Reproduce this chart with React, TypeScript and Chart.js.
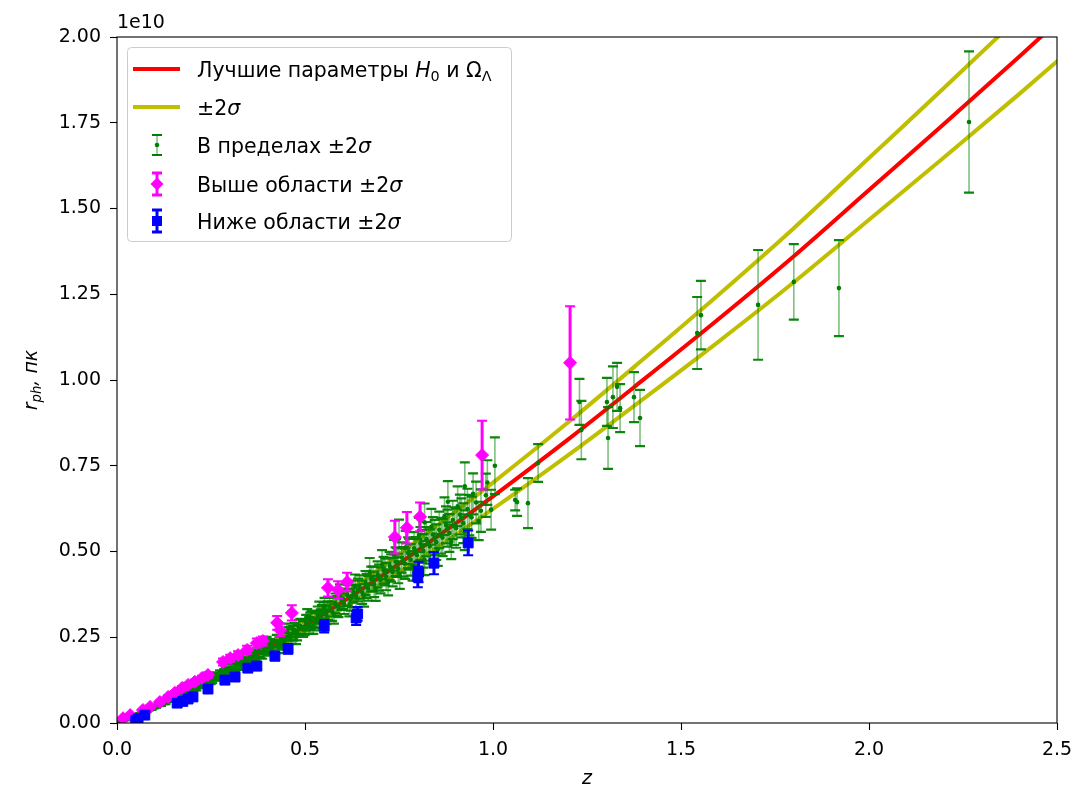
import React, { useEffect, useRef } from 'react';
import { Chart, registerables } from 'chart.js';

Chart.register(...registerables);

// ---- model curves, r in units of 1e10 pc ----
const lineZ = [0, 0.1, 0.2, 0.3, 0.4, 0.5, 0.6, 0.7, 0.8, 0.9, 1.0, 1.2, 1.4, 1.6, 1.8, 2.0, 2.2, 2.4, 2.6];
const fitR = [0, 0.046, 0.098, 0.155, 0.217, 0.283, 0.353, 0.426, 0.503, 0.581, 0.661, 0.827, 1.001, 1.178, 1.361, 1.554, 1.747, 1.943, 2.144];
const upperR = [0, 0.0488, 0.1039, 0.1643, 0.230, 0.300, 0.374, 0.4516, 0.533, 0.616, 0.7007, 0.8766, 1.061, 1.2487, 1.4427, 1.6472, 1.8518, 2.0596, 2.2726];
const lowerR = [0, 0.0434, 0.0925, 0.1463, 0.2048, 0.2672, 0.3332, 0.4021, 0.4748, 0.5485, 0.624, 0.7807, 0.9449, 1.112, 1.2848, 1.467, 1.6492, 1.8342, 2.0239];

// ---- points within ±2σ ----
const greenZ = [0.010, 0.015, 0.019, 0.024, 0.028, 0.033, 0.037, 0.043, 0.049, 0.054, 0.061, 0.066, 0.073, 0.079, 0.085, 0.092, 0.098, 0.104, 0.111, 0.117, 0.124, 0.129, 0.136, 0.143, 0.148, 0.155, 0.161, 0.168, 0.176, 0.182, 0.188, 0.195, 0.203, 0.211, 0.218, 0.224, 0.231, 0.239, 0.246, 0.253, 0.259, 0.266, 0.274, 0.281, 0.289, 0.296, 0.304, 0.311, 0.318, 0.326, 0.333, 0.341, 0.349, 0.356, 0.362, 0.371, 0.378, 0.386, 0.393, 0.401, 0.408, 0.416, 0.425, 0.432, 0.441, 0.448, 0.457, 0.463, 0.472, 0.479, 0.488, 0.495, 0.503, 0.511, 0.518, 0.527, 0.534, 0.542, 0.549, 0.557, 0.566, 0.572, 0.581, 0.589, 0.597, 0.604, 0.613, 0.621, 0.628, 0.636, 0.645, 0.652, 0.661, 0.668, 0.676, 0.684, 0.693, 0.701, 0.709, 0.716, 0.725, 0.733, 0.741, 0.748, 0.757, 0.766, 0.774, 0.781, 0.790, 0.798, 0.807, 0.815, 0.823, 0.832, 0.840, 0.849, 0.857, 0.866, 0.875, 0.884, 0.893, 0.902, 0.912, 0.921, 0.932, 0.943, 0.955, 0.968, 0.981,
  0.335, 0.365, 0.398, 0.428, 0.452, 0.476, 0.506, 0.522, 0.538, 0.552, 0.577, 0.593, 0.618, 0.633, 0.657, 0.672, 0.688, 0.705, 0.721, 0.737, 0.752, 0.768, 0.786, 0.803, 0.818, 0.836, 0.853, 0.871, 0.889, 0.906, 0.925, 0.947, 0.962, 0.985, 0.995, 0.750, 0.818, 0.880, 0.925,
  0.207, 0.228, 0.249, 0.263, 0.285, 0.299, 0.315, 0.337, 0.352, 0.368, 0.382, 0.397, 0.412, 0.436, 0.444, 0.468, 0.484, 0.499, 0.514, 0.531, 0.545, 0.561, 0.585, 0.601, 0.625, 0.641, 0.664, 0.681, 0.697, 0.713, 0.729, 0.745, 0.762, 0.777, 0.794, 0.811, 0.828, 0.845, 0.862, 0.879, 0.897, 0.916, 0.937,
  1.005, 1.059, 1.064, 1.093, 1.120, 1.230, 1.235, 1.303, 1.306, 1.319, 1.330, 1.338, 1.375, 1.391, 1.543, 1.553, 1.705, 1.800, 1.920, 2.266];
const greenR = [0.0044, 0.0063, 0.0084, 0.0101, 0.0126, 0.0141, 0.0163, 0.0185, 0.0219, 0.0233, 0.0270, 0.0288, 0.0326, 0.0347, 0.0395, 0.0414, 0.0457, 0.0472, 0.0526, 0.0541, 0.0593, 0.0598, 0.0659, 0.0672, 0.0721, 0.0733, 0.0792, 0.0801, 0.0871, 0.0873, 0.0936, 0.0938, 0.1016, 0.1025, 0.1104, 0.1095, 0.1178, 0.1180, 0.1265, 0.1255, 0.1340, 0.1330, 0.1432, 0.1413, 0.1520, 0.1500, 0.1610, 0.1586, 0.1698, 0.1672, 0.1790, 0.1762, 0.1888, 0.1849, 0.1972, 0.1944, 0.2078, 0.2033, 0.2175, 0.2130, 0.2274, 0.2222, 0.2390, 0.2326, 0.2496, 0.2428, 0.2602, 0.2525, 0.2710, 0.2631, 0.2818, 0.2737, 0.2924, 0.2845, 0.3031, 0.2951, 0.3146, 0.3052, 0.3253, 0.3154, 0.3375, 0.3257, 0.3485, 0.3375, 0.3600, 0.3478, 0.3722, 0.3594, 0.3832, 0.3699, 0.3962, 0.3813, 0.4082, 0.3925, 0.4200, 0.4042, 0.4330, 0.4160, 0.4451, 0.4270, 0.4577, 0.4395, 0.4703, 0.4505, 0.4826, 0.4642, 0.4966, 0.4757, 0.5094, 0.4892, 0.5235, 0.5017, 0.5360, 0.5145, 0.5494, 0.5272, 0.5631, 0.5403, 0.5775, 0.5539, 0.5920, 0.5679, 0.6076, 0.5826, 0.6240, 0.5996, 0.6428, 0.6190, 0.6642,
  0.192, 0.180, 0.232, 0.222, 0.268, 0.251, 0.306, 0.284, 0.326, 0.335, 0.318, 0.372, 0.341, 0.398, 0.372, 0.441, 0.392, 0.462, 0.410, 0.489, 0.431, 0.512, 0.458, 0.548, 0.476, 0.572, 0.505, 0.603, 0.528, 0.632, 0.556, 0.668, 0.589, 0.701, 0.622, 0.538, 0.585, 0.645, 0.690,
  0.104, 0.113, 0.122, 0.138, 0.146, 0.160, 0.163, 0.172, 0.190, 0.200, 0.205, 0.222, 0.219, 0.246, 0.236, 0.262, 0.279, 0.279, 0.298, 0.302, 0.318, 0.328, 0.341, 0.362, 0.370, 0.388, 0.400, 0.420, 0.424, 0.440, 0.452, 0.468, 0.470, 0.492, 0.496, 0.515, 0.522, 0.541, 0.546, 0.568, 0.574, 0.598, 0.606,
  0.750, 0.650, 0.644, 0.641, 0.758, 0.936, 0.854, 0.936, 0.831, 0.950, 0.980, 0.918, 0.950, 0.889, 1.137, 1.189, 1.219, 1.286, 1.268, 1.752];
const greenErr = [0.0008, 0.001, 0.001, 0.0012, 0.0012, 0.0014, 0.0015, 0.0016, 0.0018, 0.002, 0.0022, 0.0023, 0.0025, 0.0027, 0.003, 0.003, 0.0032, 0.0035, 0.0036, 0.004, 0.004, 0.0045, 0.0045, 0.005, 0.005, 0.0055, 0.0055, 0.006, 0.006, 0.0065, 0.0065, 0.007, 0.007, 0.0075, 0.0078, 0.008, 0.008, 0.0085, 0.0088, 0.009, 0.0095, 0.0095, 0.010, 0.010, 0.011, 0.011, 0.0115, 0.012, 0.012, 0.0125, 0.013, 0.013, 0.014, 0.014, 0.0145, 0.015, 0.0155, 0.016, 0.016, 0.017, 0.017, 0.018, 0.018, 0.019, 0.019, 0.020, 0.020, 0.021, 0.021, 0.022, 0.022, 0.023, 0.023, 0.024, 0.024, 0.025, 0.025, 0.026, 0.026, 0.027, 0.027, 0.028, 0.029, 0.029, 0.030, 0.030, 0.031, 0.032, 0.032, 0.033, 0.034, 0.034, 0.035, 0.036, 0.036, 0.037, 0.038, 0.038, 0.039, 0.040, 0.041, 0.041, 0.042, 0.043, 0.044, 0.044, 0.045, 0.046, 0.047, 0.047, 0.048, 0.049, 0.050, 0.050, 0.051, 0.052, 0.053, 0.054, 0.054, 0.055, 0.056, 0.057, 0.058, 0.058, 0.059, 0.060, 0.061, 0.062, 0.063,
  0.016, 0.015, 0.019, 0.018, 0.022, 0.021, 0.026, 0.024, 0.028, 0.030, 0.028, 0.032, 0.030, 0.035, 0.033, 0.040, 0.036, 0.042, 0.038, 0.045, 0.040, 0.048, 0.043, 0.050, 0.045, 0.052, 0.047, 0.055, 0.050, 0.058, 0.052, 0.060, 0.056, 0.065, 0.058, 0.055, 0.055, 0.060, 0.070,
  0.008, 0.009, 0.009, 0.010, 0.011, 0.012, 0.012, 0.013, 0.014, 0.015, 0.015, 0.017, 0.017, 0.019, 0.018, 0.021, 0.022, 0.023, 0.024, 0.025, 0.026, 0.027, 0.029, 0.030, 0.032, 0.033, 0.035, 0.036, 0.038, 0.039, 0.040, 0.042, 0.043, 0.045, 0.046, 0.048, 0.049, 0.051, 0.052, 0.054, 0.055, 0.057, 0.059,
  0.083, 0.030, 0.040, 0.073, 0.055, 0.067, 0.085, 0.070, 0.090, 0.090, 0.070, 0.070, 0.073, 0.082, 0.105, 0.100, 0.160, 0.110, 0.140, 0.206];

// ---- points above the ±2σ region ----
const aboveZ = [0.016, 0.035, 0.069, 0.088, 0.114, 0.136, 0.154, 0.173, 0.189, 0.207, 0.226, 0.242, 0.282, 0.301, 0.322, 0.346, 0.372, 0.388, 0.426, 0.434, 0.465, 0.561, 0.588, 0.612, 0.739, 0.771, 0.806, 0.971, 1.205];
const aboveR = [0.014, 0.023, 0.038, 0.047, 0.061, 0.076, 0.088, 0.102, 0.111, 0.120, 0.131, 0.140, 0.178, 0.189, 0.198, 0.213, 0.233, 0.239, 0.292, 0.271, 0.321, 0.394, 0.388, 0.411, 0.542, 0.569, 0.601, 0.781, 1.050];
const aboveErr = [0.002, 0.003, 0.003, 0.004, 0.004, 0.005, 0.005, 0.006, 0.006, 0.007, 0.007, 0.008, 0.010, 0.010, 0.011, 0.012, 0.013, 0.013, 0.020, 0.018, 0.022, 0.025, 0.025, 0.027, 0.048, 0.046, 0.042, 0.100, 0.165];

// ---- points below the ±2σ region ----
const belowZ = [0.050, 0.056, 0.074, 0.160, 0.175, 0.189, 0.202, 0.242, 0.287, 0.314, 0.348, 0.372, 0.420, 0.455, 0.551, 0.636, 0.640, 0.800, 0.802, 0.843, 0.934];
const belowR = [0.008, 0.012, 0.023, 0.058, 0.063, 0.070, 0.076, 0.099, 0.125, 0.134, 0.160, 0.166, 0.195, 0.216, 0.282, 0.306, 0.318, 0.426, 0.440, 0.466, 0.525];
const belowErr = [0.002, 0.002, 0.003, 0.005, 0.005, 0.006, 0.006, 0.008, 0.009, 0.010, 0.011, 0.012, 0.013, 0.014, 0.018, 0.020, 0.020, 0.030, 0.030, 0.032, 0.036];

const xTickValues = [0, 0.5, 1.0, 1.5, 2.0, 2.5];
const yTickValues = [0, 0.25, 0.5, 0.75, 1.0, 1.25, 1.5, 1.75, 2.0];

type Seg = { t: string; i?: boolean; sub?: boolean };
const legendLabels: Seg[][] = [
  [{ t: 'Лучшие параметры ' }, { t: 'H', i: true }, { t: '0', sub: true }, { t: ' и Ω' }, { t: 'Λ', sub: true }],
  [{ t: '±2' }, { t: 'σ', i: true }],
  [{ t: 'В пределах ±2' }, { t: 'σ', i: true }],
  [{ t: 'Выше области ±2' }, { t: 'σ', i: true }],
  [{ t: 'Ниже области ±2' }, { t: 'σ', i: true }],
];
const yTitle: Seg[] = [{ t: 'r', i: true }, { t: 'ph', i: true, sub: true }, { t: ', пк', i: true }];
const offsetText = '1e10';

const FONT = '"DejaVu Sans", sans-serif';
const FS = 19;
const LFS = 20.5;
const RED = '#ff0000';
const YEL = '#bfbf00';
const GREEN = '#008000';
const MAG = '#ff00ff';
const BLUE = '#0000ff';

function pts(xs: number[], ys: number[]) {
  return xs.map((x, i) => ({ x, y: ys[i] }));
}

function drawRich(ctx: CanvasRenderingContext2D, segs: Seg[], x: number, y: number, size: number, align: 'left' | 'center' = 'left') {
  const fontFor = (s: Seg) => `${s.i ? 'italic ' : ''}${s.sub ? size * 0.7 : size}px ${FONT}`;
  let total = 0;
  for (const s of segs) { ctx.font = fontFor(s); total += ctx.measureText(s.t).width; }
  let cx = align === 'center' ? x - total / 2 : x;
  ctx.textAlign = 'left';
  ctx.textBaseline = 'alphabetic';
  for (const s of segs) {
    ctx.font = fontFor(s);
    ctx.fillText(s.t, cx, y + (s.sub ? size * 0.22 : 0));
    cx += ctx.measureText(s.t).width;
  }
}

function drawErrMarker(ctx: CanvasRenderingContext2D, x: number, yc: number, half: number, color: string, capColor: string, lw: number, cap: number, shape: string) {
  ctx.strokeStyle = color; ctx.lineWidth = lw;
  ctx.beginPath(); ctx.moveTo(x, yc - half); ctx.lineTo(x, yc + half); ctx.stroke();
  ctx.strokeStyle = capColor; ctx.lineWidth = Math.max(lw, 1.8);
  ctx.beginPath();
  ctx.moveTo(x - cap, yc - half); ctx.lineTo(x + cap, yc - half);
  ctx.moveTo(x - cap, yc + half); ctx.lineTo(x + cap, yc + half);
  ctx.stroke();
  ctx.fillStyle = capColor;
  ctx.beginPath();
  if (shape === 'dot') ctx.arc(x, yc, 2.3, 0, Math.PI * 2);
  else if (shape === 'diamond') { ctx.moveTo(x, yc - 6.5); ctx.lineTo(x + 6.5, yc); ctx.lineTo(x, yc + 6.5); ctx.lineTo(x - 6.5, yc); ctx.closePath(); }
  else ctx.rect(x - 5, yc - 5, 10, 10);
  ctx.fill();
}

const errorBarPlugin = {
  id: 'errorBars',
  beforeDatasetDraw(chart: any, args: any) {
    const ds = chart.data.datasets[args.index];
    if (!ds.errors) return;
    const ctx: CanvasRenderingContext2D = chart.ctx;
    const ys = chart.scales.y;
    const a = chart.chartArea;
    ctx.save();
    ctx.beginPath(); ctx.rect(a.left, a.top, a.right - a.left, a.bottom - a.top); ctx.clip();
    args.meta.data.forEach((el: any, i: number) => {
      const v = ds.data[i].y; const e = ds.errors[i];
      const px = el.x;
      const yt = ys.getPixelForValue(v + e); const yb = ys.getPixelForValue(v - e);
      ctx.strokeStyle = ds.errColor; ctx.lineWidth = ds.errWidth;
      ctx.beginPath(); ctx.moveTo(px, yt); ctx.lineTo(px, yb); ctx.stroke();
      ctx.strokeStyle = ds.capColor; ctx.lineWidth = ds.capWidth;
      ctx.beginPath();
      ctx.moveTo(px - ds.capSize, yt); ctx.lineTo(px + ds.capSize, yt);
      ctx.moveTo(px - ds.capSize, yb); ctx.lineTo(px + ds.capSize, yb);
      ctx.stroke();
    });
    ctx.restore();
  },
};

const decorPlugin = {
  id: 'decor',
  afterDraw(chart: any) {
    const ctx: CanvasRenderingContext2D = chart.ctx;
    const a = chart.chartArea;
    ctx.save();
    ctx.strokeStyle = '#000'; ctx.lineWidth = 1.1;
    ctx.strokeRect(a.left, a.top, a.right - a.left, a.bottom - a.top);
    ctx.fillStyle = '#000';
    ctx.font = `${FS}px ${FONT}`; ctx.textAlign = 'left'; ctx.textBaseline = 'alphabetic';
    ctx.fillText(offsetText, a.left, a.top - 9);
    drawRich(ctx, [{ t: 'z', i: true }], (a.left + a.right) / 2, 784, FS, 'center');
    ctx.save();
    ctx.translate(37, (a.top + a.bottom) / 2);
    ctx.rotate(-Math.PI / 2);
    drawRich(ctx, yTitle, 0, 0, FS, 'center');
    ctx.restore();
    const lx = 127.5, ly = 47.5, lw = 384, lh = 194, r = 4;
    ctx.beginPath();
    ctx.moveTo(lx + r, ly); ctx.lineTo(lx + lw - r, ly); ctx.arcTo(lx + lw, ly, lx + lw, ly + r, r);
    ctx.lineTo(lx + lw, ly + lh - r); ctx.arcTo(lx + lw, ly + lh, lx + lw - r, ly + lh, r);
    ctx.lineTo(lx + r, ly + lh); ctx.arcTo(lx, ly + lh, lx, ly + lh - r, r);
    ctx.lineTo(lx, ly + r); ctx.arcTo(lx, ly, lx + r, ly, r); ctx.closePath();
    ctx.fillStyle = 'rgba(255,255,255,0.8)'; ctx.fill();
    ctx.strokeStyle = '#cccccc'; ctx.lineWidth = 1; ctx.stroke();
    const rows = [69, 107, 145, 184, 221];
    ctx.lineCap = 'butt';
    ctx.strokeStyle = RED; ctx.lineWidth = 4;
    ctx.beginPath(); ctx.moveTo(133, rows[0]); ctx.lineTo(180, rows[0]); ctx.stroke();
    ctx.strokeStyle = YEL;
    ctx.beginPath(); ctx.moveTo(133, rows[1]); ctx.lineTo(180, rows[1]); ctx.stroke();
    drawErrMarker(ctx, 157, rows[2], 10, 'rgba(0,128,0,0.5)', GREEN, 1.5, 5, 'dot');
    drawErrMarker(ctx, 157, rows[3], 11, MAG, MAG, 3, 5, 'diamond');
    drawErrMarker(ctx, 157, rows[4], 11, BLUE, BLUE, 3, 5, 'square');
    ctx.fillStyle = '#000';
    legendLabels.forEach((segs, i) => drawRich(ctx, segs, 197, rows[i] + 7.5, LFS));
    ctx.restore();
  },
};

export default function App() {
  const ref = useRef<HTMLCanvasElement>(null);
  useEffect(() => {
    document.body.style.margin = '0';
    const canvas = ref.current!;
    const chart = new Chart(canvas, {
      type: 'scatter',
      data: {
        datasets: [
          { type: 'line', data: pts(lineZ, fitR), borderColor: RED, borderWidth: 4, pointRadius: 0, fill: false, tension: 0.4, cubicInterpolationMode: 'monotone', order: 10, clip: 0 } as any,
          { type: 'line', data: pts(lineZ, upperR), borderColor: YEL, borderWidth: 4, pointRadius: 0, fill: false, tension: 0.4, cubicInterpolationMode: 'monotone', order: 11, clip: 0 } as any,
          { type: 'line', data: pts(lineZ, lowerR), borderColor: YEL, borderWidth: 4, pointRadius: 0, fill: false, tension: 0.4, cubicInterpolationMode: 'monotone', order: 12, clip: 0 } as any,
          { data: pts(greenZ, greenR), errors: greenErr, errColor: 'rgba(0,128,0,0.5)', errWidth: 1.6, capColor: 'rgba(0,128,0,0.95)', capWidth: 2.2, capSize: 5, pointStyle: 'circle', pointRadius: 2.3, pointBackgroundColor: GREEN, pointBorderWidth: 0, order: 3 } as any,
          { data: pts(aboveZ, aboveR), errors: aboveErr, errColor: MAG, errWidth: 3, capColor: MAG, capWidth: 2, capSize: 5, pointStyle: 'rectRot', pointRadius: 6.5, pointBackgroundColor: MAG, pointBorderColor: MAG, pointBorderWidth: 1, order: 2 } as any,
          { data: pts(belowZ, belowR), errors: belowErr, errColor: BLUE, errWidth: 3, capColor: BLUE, capWidth: 2, capSize: 5, pointStyle: 'rect', pointRadius: 7, pointBackgroundColor: BLUE, pointBorderColor: BLUE, pointBorderWidth: 1, order: 1 } as any,
        ],
      },
      options: {
        animation: false,
        responsive: false,
        events: [],
        layout: { padding: { left: 0, right: 17, top: 37, bottom: 0 } },
        plugins: { legend: { display: false }, tooltip: { enabled: false } },
        scales: {
          x: {
            type: 'linear', min: 0, max: 2.5,
            afterBuildTicks: (s: any) => { s.ticks = xTickValues.map((v) => ({ value: v })); },
            afterFit: (s: any) => { s.height = 68; s.paddingLeft = 0; s.paddingRight = 0; },
            border: { display: false },
            grid: { display: true, drawOnChartArea: false, drawTicks: true, tickLength: 7, tickColor: '#000', tickWidth: 1.1 },
            ticks: { color: '#000', padding: 9, maxRotation: 0, font: { family: FONT, size: FS }, callback: (v: any) => Number(v).toFixed(1) },
          },
          y: {
            type: 'linear', min: 0, max: 2,
            afterBuildTicks: (s: any) => { s.ticks = yTickValues.map((v) => ({ value: v })); },
            afterFit: (s: any) => { s.width = 117; s.paddingTop = 0; s.paddingBottom = 0; },
            border: { display: false },
            grid: { display: true, drawOnChartArea: false, drawTicks: true, tickLength: 7, tickColor: '#000', tickWidth: 1.1 },
            ticks: { color: '#000', padding: 9, font: { family: FONT, size: FS }, callback: (v: any) => Number(v).toFixed(2) },
          },
        },
      } as any,
      plugins: [errorBarPlugin, decorPlugin],
    });
    return () => chart.destroy();
  }, []);
  return (
    <div style={{ position: 'absolute', left: 0, top: 0, width: 1074, height: 791, background: '#fff' }}>
      <canvas ref={ref} width={1074} height={791} style={{ display: 'block', width: 1074, height: 791 }} />
    </div>
  );
}
